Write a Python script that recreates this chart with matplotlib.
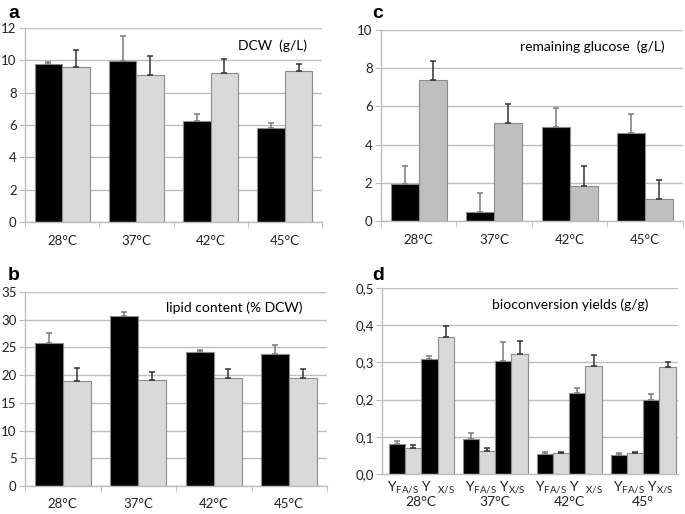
import numpy as np
import matplotlib
matplotlib.use("Agg")
import matplotlib.pyplot as plt
from matplotlib.ticker import FuncFormatter

plt.rcParams["font.family"] = ["Lato", "DejaVu Sans"]
plt.rcParams["mathtext.fontset"] = "custom"
plt.rcParams["mathtext.rm"] = "Lato"

temps = ["28°C", "37°C", "42°C", "45°C"]

# a: dry cell weight (g/L)
dcw_black = [9.77, 9.98, 6.23, 5.80]
dcw_black_err = [0.13, 1.55, 0.46, 0.33]
dcw_gray = [9.62, 9.11, 9.21, 9.34]
dcw_gray_err = [1.00, 1.16, 0.89, 0.43]

# b: lipid content (% DCW)
lip_black = [25.85, 30.65, 24.1, 23.85]
lip_black_err = [1.75, 0.72, 0.42, 1.57]
lip_gray = [18.98, 19.16, 19.46, 19.46]
lip_gray_err = [2.35, 1.32, 1.63, 1.63]

# c: remaining glucose (g/L)
glu_black = [1.92, 0.47, 4.92, 4.59]
glu_black_err = [0.98, 1.01, 1.01, 1.03]
glu_gray = [7.38, 5.11, 1.83, 1.13]
glu_gray_err = [1.01, 1.00, 1.03, 1.00]

# d: bioconversion yields (g/g)
yfa_black = [0.081, 0.093, 0.054, 0.050]
yfa_black_err = [0.007, 0.016, 0.004, 0.006]
yfa_gray = [0.071, 0.061, 0.057, 0.057]
yfa_gray_err = [0.006, 0.009, 0.002, 0.003]
yxs_black = [0.310, 0.303, 0.219, 0.199]
yxs_black_err = [0.006, 0.053, 0.012, 0.015]
yxs_gray = [0.368, 0.322, 0.290, 0.288]
yxs_gray_err = [0.029, 0.035, 0.030, 0.012]
d_labels = [r"Y$_{\mathregular{FA/S}}$ Y  $_{\mathregular{X/S}}$" + "\n28°C",
            r"Y$_{\mathregular{FA/S}}$ Y$_{\mathregular{X/S}}$" + "\n37°C",
            r"Y$_{\mathregular{FA/S}}$ Y  $_{\mathregular{X/S}}$" + "\n42°C",
            r"Y$_{\mathregular{FA/S}}$ Y$_{\mathregular{X/S}}$" + "\n45°"]

GRID = "#bdbdbd"
EDGE = "#8c8c8c"
LIGHT = "#d9d9d9"


def style_axes(ax, ymax, step, ticks_x=True):
    ax.set_ylim(0, ymax)
    ax.set_yticks(np.arange(0, ymax + step / 2, step))
    ax.yaxis.grid(True, color=GRID, linewidth=1.0)
    ax.set_axisbelow(True)
    for s in ["top", "right"]:
        ax.spines[s].set_visible(False)
    for s in ["left", "bottom"]:
        ax.spines[s].set_color(GRID)
        ax.spines[s].set_linewidth(1.0)
    ax.tick_params(axis="y", length=4, color=GRID, labelsize=9.5, pad=2, labelcolor="#222222")
    ax.tick_params(axis="x", which="major", length=0, labelsize=9.5, pad=9, labelcolor="#222222")
    if ticks_x:
        ax.set_xticks(np.arange(-0.5, 4.0, 1.0), minor=True)
        ax.tick_params(axis="x", which="minor", length=4, color=GRID)


def bars(ax, pos, vals, errs, color, width):
    ax.bar(pos, vals, width, color=color, edgecolor=EDGE, linewidth=0.8, zorder=2)
    ecolor = "#7a7a7a" if color == "black" else "#333333"
    ax.errorbar(pos, vals, yerr=[np.zeros(len(vals)), errs], fmt="none",
                ecolor=ecolor, elinewidth=1.1, capsize=2.5, capthick=1.1, zorder=3)


fig = plt.figure(figsize=(6.85, 5.14), dpi=100)
x = np.arange(4)
w = 0.37

# panel a
ax_a = fig.add_axes([0.0365, 0.568, 0.4336, 0.3774])
bars(ax_a, x - w / 2, dcw_black, dcw_black_err, "black", w)
bars(ax_a, x + w / 2, dcw_gray, dcw_gray_err, LIGHT, w)
ax_a.set_xlim(-0.5, 3.5)
ax_a.set_xticks(x)
ax_a.set_xticklabels(temps)
style_axes(ax_a, 12, 2)
ax_a.text(0.95, 0.91, "DCW  (g/L)", transform=ax_a.transAxes, ha="right", va="center", fontsize=10)

# panel c
ax_c = fig.add_axes([0.556, 0.570, 0.441, 0.3716])
bars(ax_c, x - w / 2, glu_black, glu_black_err, "black", w)
bars(ax_c, x + w / 2, glu_gray, glu_gray_err, "#bfbfbf", w)
ax_c.set_xlim(-0.5, 3.5)
ax_c.set_xticks(x)
ax_c.set_xticklabels(temps)
style_axes(ax_c, 10, 2)
ax_c.text(0.94, 0.91, "remaining glucose  (g/L)", transform=ax_c.transAxes, ha="right", va="center", fontsize=10)

# panel b
ax_b = fig.add_axes([0.0365, 0.0545, 0.441, 0.3774])
bars(ax_b, x - w / 2, lip_black, lip_black_err, "black", w)
bars(ax_b, x + w / 2, lip_gray, lip_gray_err, LIGHT, w)
ax_b.set_xlim(-0.5, 3.5)
ax_b.set_xticks(x)
ax_b.set_xticklabels(temps)
style_axes(ax_b, 35, 5)
ax_b.text(0.917, 0.92, "lipid content (% DCW)", transform=ax_b.transAxes, ha="right", va="center", fontsize=10)

# panel d
ax_d = fig.add_axes([0.5577, 0.0778, 0.432, 0.362])
wd = 0.22
bars(ax_d, x - 1.5 * wd, yfa_black, yfa_black_err, "black", wd)
bars(ax_d, x - 0.5 * wd, yfa_gray, yfa_gray_err, LIGHT, wd)
bars(ax_d, x + 0.5 * wd, yxs_black, yxs_black_err, "black", wd)
bars(ax_d, x + 1.5 * wd, yxs_gray, yxs_gray_err, LIGHT, wd)
ax_d.set_xlim(-0.53, 3.47)
ax_d.set_xticks(x)
ax_d.set_xticklabels(d_labels, linespacing=1.0)
style_axes(ax_d, 0.5, 0.1, ticks_x=False)
ax_d.tick_params(axis="x", which="major", pad=4, labelsize=10)
ax_d.yaxis.set_major_formatter(FuncFormatter(lambda v, p: f"{v:.1f}".replace(".", ",")))
ax_d.text(0.90, 0.91, "bioconversion yields (g/g)", transform=ax_d.transAxes, ha="right", va="center", fontsize=10)

# panel letters
for lab, (px, py) in zip("acbd", [(8, 13), (372, 13), (8, 276), (372, 275)]):
    fig.text(px / 685, 1 - py / 514, lab, fontsize=14, fontweight="bold",
             family=["Liberation Sans", "DejaVu Sans"], ha="left", va="center")

fig.savefig("out.png", dpi=100)
